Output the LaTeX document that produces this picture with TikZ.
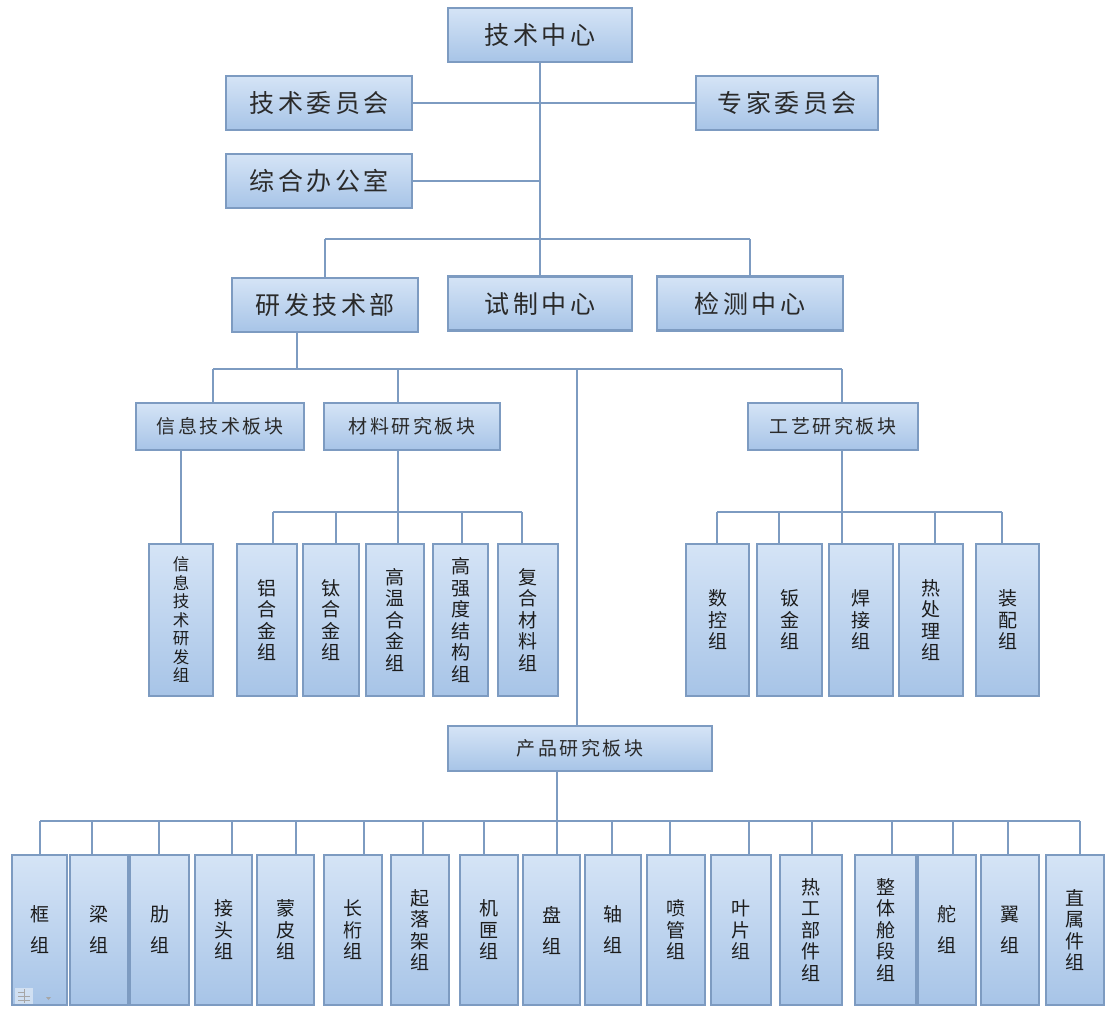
\documentclass[tikz,border=0pt]{standalone}
\usepackage{fontspec}
\newfontfamily\cjk{Noto Sans CJK SC}
\definecolor{boxtop}{HTML}{D5E4F6}
\definecolor{boxbot}{HTML}{A7C4E7}
\definecolor{bordc}{HTML}{7D9BC1}
\definecolor{linec}{HTML}{7D9BC1}
\definecolor{txt}{HTML}{2A2A2A}
\definecolor{txtv}{HTML}{1C1C1C}
\newcommand\lsA{\kern3.5pt}
\newcommand\lsB{\kern2.5pt}
\begin{document}
\begin{tikzpicture}[x=1pt,y=-1pt,
  box/.style={draw=bordc, line width=2.2pt, top color=boxtop, bottom color=boxbot, inner sep=0pt, text=txt},
  big/.style={box, minimum height=54pt, font=\cjk\fontsize{25pt}{28pt}\selectfont},
  mid/.style={box, font=\cjk\fontsize{19pt}{21pt}\selectfont},
  vert/.style={box, align=center, text=txtv, minimum height=152pt, font=\cjk\fontsize{19pt}{21.5pt}\selectfont},
  conn/.style={draw=linec, line width=2.2pt},
]
\fill[white] (0,0) rectangle (1107,1010);
\useasboundingbox (0,0) rectangle (1107,1010);

% top level
\node[big, minimum width=184pt] (tc) at (540,35) {技\lsA 术\lsA 中\lsA 心};
\node[big, minimum width=186pt] (jw) at (319,103) {技\lsA 术\lsA 委\lsA 员\lsA 会};
\node[big, minimum width=182pt] (zj) at (787,103) {专\lsA 家\lsA 委\lsA 员\lsA 会};
\node[big, minimum width=186pt] (zh) at (319,181) {综\lsA 合\lsA 办\lsA 公\lsA 室};
\node[big, minimum width=186pt] (yf) at (325,305) {研\lsA 发\lsA 技\lsA 术\lsA 部};
\node[big, minimum width=184pt] (sz) at (540,303.5) {试\lsA 制\lsA 中\lsA 心};
\node[big, minimum width=186pt] (jc) at (750,303.5) {检\lsA 测\lsA 中\lsA 心};

% second level
\node[mid, minimum width=168pt, minimum height=47pt] (xx) at (220,426.5) {信\lsB 息\lsB 技\lsB 术\lsB 板\lsB 块};
\node[mid, minimum width=176pt, minimum height=47pt] (cl) at (412,426.5) {材\lsB 料\lsB 研\lsB 究\lsB 板\lsB 块};
\node[mid, minimum width=170pt, minimum height=47pt] (gy) at (833,426.5) {工\lsB 艺\lsB 研\lsB 究\lsB 板\lsB 块};
\node[mid, minimum width=264pt, minimum height=45pt] (cp) at (580,748.5) {产\lsB 品\lsB 研\lsB 究\lsB 板\lsB 块};

% third level (middle)
\node[vert, minimum width=64pt, font=\cjk\fontsize{16.5pt}{18.5pt}\selectfont] (xxz) at (181,620) {信\\息\\技\\术\\研\\发\\组};
\node[vert, minimum width=60pt] (al) at (267,620) {铝\\合\\金\\组};
\node[vert, minimum width=56pt] (ti) at (331,620) {钛\\合\\金\\组};
\node[vert, minimum width=58pt] (gw) at (395,620) {高\\温\\合\\金\\组};
\node[vert, minimum width=55pt] (gq) at (460.5,620) {高\\强\\度\\结\\构\\组};
\node[vert, minimum width=60pt] (fh) at (528,620) {复\\合\\材\\料\\组};
\node[vert, minimum width=63pt] (sk) at (717.5,620) {数\\控\\组};
\node[vert, minimum width=65pt] (bj) at (789.5,620) {钣\\金\\组};
\node[vert, minimum width=64pt] (hj) at (861,620) {焊\\接\\组};
\node[vert, minimum width=64pt] (rc) at (931,620) {热\\处\\理\\组};
\node[vert, minimum width=63pt] (zp) at (1007.5,620) {装\\配\\组};

% connectors top
\coordinate (busA) at (0,239);
\coordinate (busB) at (0,369);
\coordinate (busC) at (0,512);
\coordinate (busD) at (0,821);
\draw[conn] (tc.south) -- (sz.north);
\draw[conn] (jw.east) -- (zj.west);
\draw[conn] (zh.east) -- (zh.east -| tc.south);
\draw[conn] (yf.north |- busA) -- (jc.north |- busA);
\draw[conn] (yf.north) -- (yf.north |- busA);
\draw[conn] (jc.north) -- (jc.north |- busA);

% bus B
\draw[conn] (297,0 |- yf.south) -- (297,0 |- busB);
\draw[conn] (213,0 |- busB) -- (842,0 |- busB);
\draw[conn] (213,0 |- busB) -- (213,0 |- xx.north);
\draw[conn] (398,0 |- busB) -- (398,0 |- cl.north);
\draw[conn] (842,0 |- busB) -- (842,0 |- gy.north);
\draw[conn] (577,0 |- busB) -- (577,0 |- cp.north);

% info
\draw[conn] (xxz.north |- xx.south) -- (xxz.north);

% materials
\draw[conn] (398,0 |- cl.south) -- (398,0 |- busC);
\draw[conn] (273,0 |- busC) -- (522,0 |- busC);
\draw[conn] (273,0 |- busC) -- (273,0 |- al.north);
\draw[conn] (336,0 |- busC) -- (336,0 |- ti.north);
\draw[conn] (398,0 |- busC) -- (398,0 |- gw.north);
\draw[conn] (462,0 |- busC) -- (462,0 |- gq.north);
\draw[conn] (522,0 |- busC) -- (522,0 |- fh.north);

% process
\draw[conn] (842,0 |- gy.south) -- (842,0 |- busC);
\draw[conn] (717,0 |- busC) -- (1002,0 |- busC);
\draw[conn] (717,0 |- busC) -- (717,0 |- sk.north);
\draw[conn] (779,0 |- busC) -- (779,0 |- bj.north);
\draw[conn] (842,0 |- busC) -- (842,0 |- hj.north);
\draw[conn] (935,0 |- busC) -- (935,0 |- rc.north);
\draw[conn] (1002,0 |- busC) -- (1002,0 |- zp.north);

% product
\draw[conn] (557,0 |- cp.south) -- (557,0 |- busD);
\draw[conn] (40,0 |- busD) -- (1080,0 |- busD);
\foreach \xa/\xb/\dx/\nm/\tx/\bs in {
  12/67/40/kz/{框\\组}/31,
  70/128/92/lz/{梁\\组}/31,
  130/189/159/leiz/{肋\\组}/31,
  195/252/232/jt/{接\\头\\组}/21.5,
  257/314/296/mp/{蒙\\皮\\组}/21.5,
  324/382/364/ch/{长\\桁\\组}/21.5,
  391/449/423/qlj/{起\\落\\架\\组}/21.5,
  460/518/484/jx/{机\\匣\\组}/21.5,
  523/580/557/pz/{盘\\组}/31,
  585/641/612/zz/{轴\\组}/31,
  647/705/670/pg/{喷\\管\\组}/21.5,
  711/771/749/yp/{叶\\片\\组}/21.5,
  780/842/812/rg/{热\\工\\部\\件\\组}/21.5,
  855/916/892/zt/{整\\体\\舱\\段\\组}/21.5,
  918/976/953/dz/{舵\\组}/31,
  981/1039/1008/yz/{翼\\组}/31,
  1046/1104/1080/zs/{直\\属\\件\\组}/21.5}{
  \node[box, align=center, text=txtv, minimum width={\xb-\xa}, minimum height=150pt,
        font=\cjk\fontsize{19pt}{\bs pt}\selectfont] (\nm) at ({(\xa+\xb)/2},930) {\tx};
  \draw[conn] (\dx,0 |- busD) -- (\dx,0 |- \nm.north);
}

% paste-options icon
\fill[white, opacity=0.45] (15,988) rectangle (33,1004);
\draw[gray!70, line width=1pt] (18,992) -- (24,992) (18,996) -- (30,996) (18,1000) -- (30,1000) (24,989) -- (24,1003);
\fill[gray!70] (46,997) -- (51,997) -- (48.5,1000) -- cycle;
\end{tikzpicture}
\end{document}
